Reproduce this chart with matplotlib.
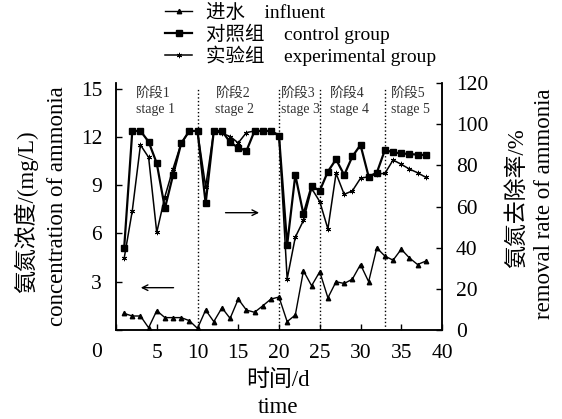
import matplotlib
matplotlib.use("Agg")
import matplotlib.pyplot as plt

plt.rcParams['font.family'] = ['Liberation Serif', 'Noto Sans CJK SC']

# 数据
days = list(range(1, 39))
influent = [1.03, 0.87, 0.87, 0.14, 1.2, 0.77, 0.77, 0.77, 0.58, 0.1,
            1.24, 0.52, 1.38, 0.72, 1.92, 1.24, 1.1, 1.5, 1.92, 2.05,
            0.52, 0.93, 3.68, 2.75, 3.62, 2.0, 3.0, 2.89, 3.16, 4.07,
            3.0, 5.1, 4.59, 4.34, 5.02, 4.48, 4.07, 4.28]
control_rate = [39.7, 96.7, 96.7, 91.5, 81.0, 59.1, 75.3, 90.7, 96.7, 96.7,
                61.5, 96.7, 96.7, 91.2, 88.6, 87.0, 96.7, 96.7, 96.7, 94.3,
                41.3, 75.3, 56.2, 70.0, 67.6, 77.0, 82.9, 75.3, 84.3, 89.9,
                74.5, 76.4, 87.5, 86.3, 85.8, 85.5, 85.2, 84.9]
experimental_rate = [34.8, 58.0, 89.9, 83.9, 47.4, 64.8, 78.4, 90.7, 96.7, 96.7,
                     69.7, 96.7, 95.6, 94.0, 90.9, 95.9, 96.7, 96.7, 96.7, 94.9,
                     24.8, 45.1, 53.2, 68.8, 62.4, 49.1, 76.1, 65.9, 67.6, 73.7,
                     74.5, 75.8, 76.1, 82.6, 80.5, 78.2, 76.4, 74.2]

stage_bounds = [10, 20, 25, 33]
stage_labels = ["阶段1\nstage 1", "阶段2\nstage 2", "阶段3\nstage 3",
                "阶段4\nstage 4", "阶段5\nstage 5"]
stage_text_x = [2.4, 12.2, 20.2, 26.2, 33.7]

fig = plt.figure(figsize=(5.62, 4.19), dpi=100)
ax = fig.add_axes([116/562, 89/419, 326/562, 247/419])
ax2 = ax.twinx()

l1, = ax.plot(days, influent, color='k', lw=1, marker='^', ms=3.2)
l2, = ax2.plot(days, control_rate, color='k', lw=1.6, marker='s', ms=4.3)
l3, = ax2.plot(days, experimental_rate, color='k', lw=1.1,
               marker=(6, 2, 0), ms=3.8, mew=0.7)

ax.set_xlim(0, 40)
ax.set_ylim(0, 15.35)
ax2.set_ylim(0, 120)

ax.set_xticks(range(0, 41, 5))
ax.set_xticklabels([''] + [str(v) for v in range(5, 41, 5)])
ax.set_yticks(range(0, 16, 3))
ax.set_yticklabels([''] + [str(v) for v in range(3, 16, 3)])
ax2.set_yticks(range(0, 121, 20))

for a in (ax, ax2):
    a.spines['top'].set_visible(False)
    for s in a.spines.values():
        s.set_linewidth(1.1)
ax.tick_params(direction='in', length=4, width=1, labelsize=15.5, pad=10,
               top=False, right=False)
ax2.tick_params(direction='in', length=4, width=1, labelsize=15.5, pad=10)

# 阶段分隔线和文字
for b in stage_bounds:
    ax.axvline(b, ymin=0, ymax=0.98, color='k', ls=':', lw=1)
for txt, xt in zip(stage_labels, stage_text_x):
    ax.text(xt, 14.2, txt, fontsize=10, ha='left', va='center',
            linespacing=1.3, color='#333333')

# 箭头
ax.annotate('', xy=(2.7, 2.63), xytext=(7.4, 2.63),
            arrowprops=dict(arrowstyle='->', lw=1, color='k'))
ax.annotate('', xy=(17.9, 7.29), xytext=(13.1, 7.29),
            arrowprops=dict(arrowstyle='->', lw=1, color='k'))

fig.text(97/562, 1 - 352/419, '0', fontsize=15.5, ha='center', va='center')

# 坐标轴标题
fig.text(26/562, 1 - 212/419, '氨氮浓度/(mg/L)', rotation=90, fontsize=16.5,
         ha='center', va='center')
fig.text(58/562, 1 - 206/419, 'concentration of ammonia', rotation=90,
         fontsize=16.5, ha='center', va='center')
fig.text(517/562, 1 - 198/419, '氨氮去除率/%', rotation=90, fontsize=16.5,
         ha='center', va='center')
fig.text(545/562, 1 - 204/419, 'removal rate of ammonia', rotation=90,
         fontsize=16.5, ha='center', va='center')
fig.text(278/562, 1 - 380/419, '时间/d', fontsize=16.5, ha='center', va='center')
fig.text(278/562, 1 - 407/419, 'time', fontsize=16.5, ha='center', va='center')

fig.legend([l1, l2, l3],
           ['进水    influent', '对照组    control group', '实验组    experimental group'],
           loc='upper left', bbox_to_anchor=(165/562, 1 - 4/419),
           frameon=False, fontsize=14, handlelength=1.4, handletextpad=0.7,
           labelspacing=0.08, borderpad=0, borderaxespad=0)

fig.savefig('out.png', dpi=100)
